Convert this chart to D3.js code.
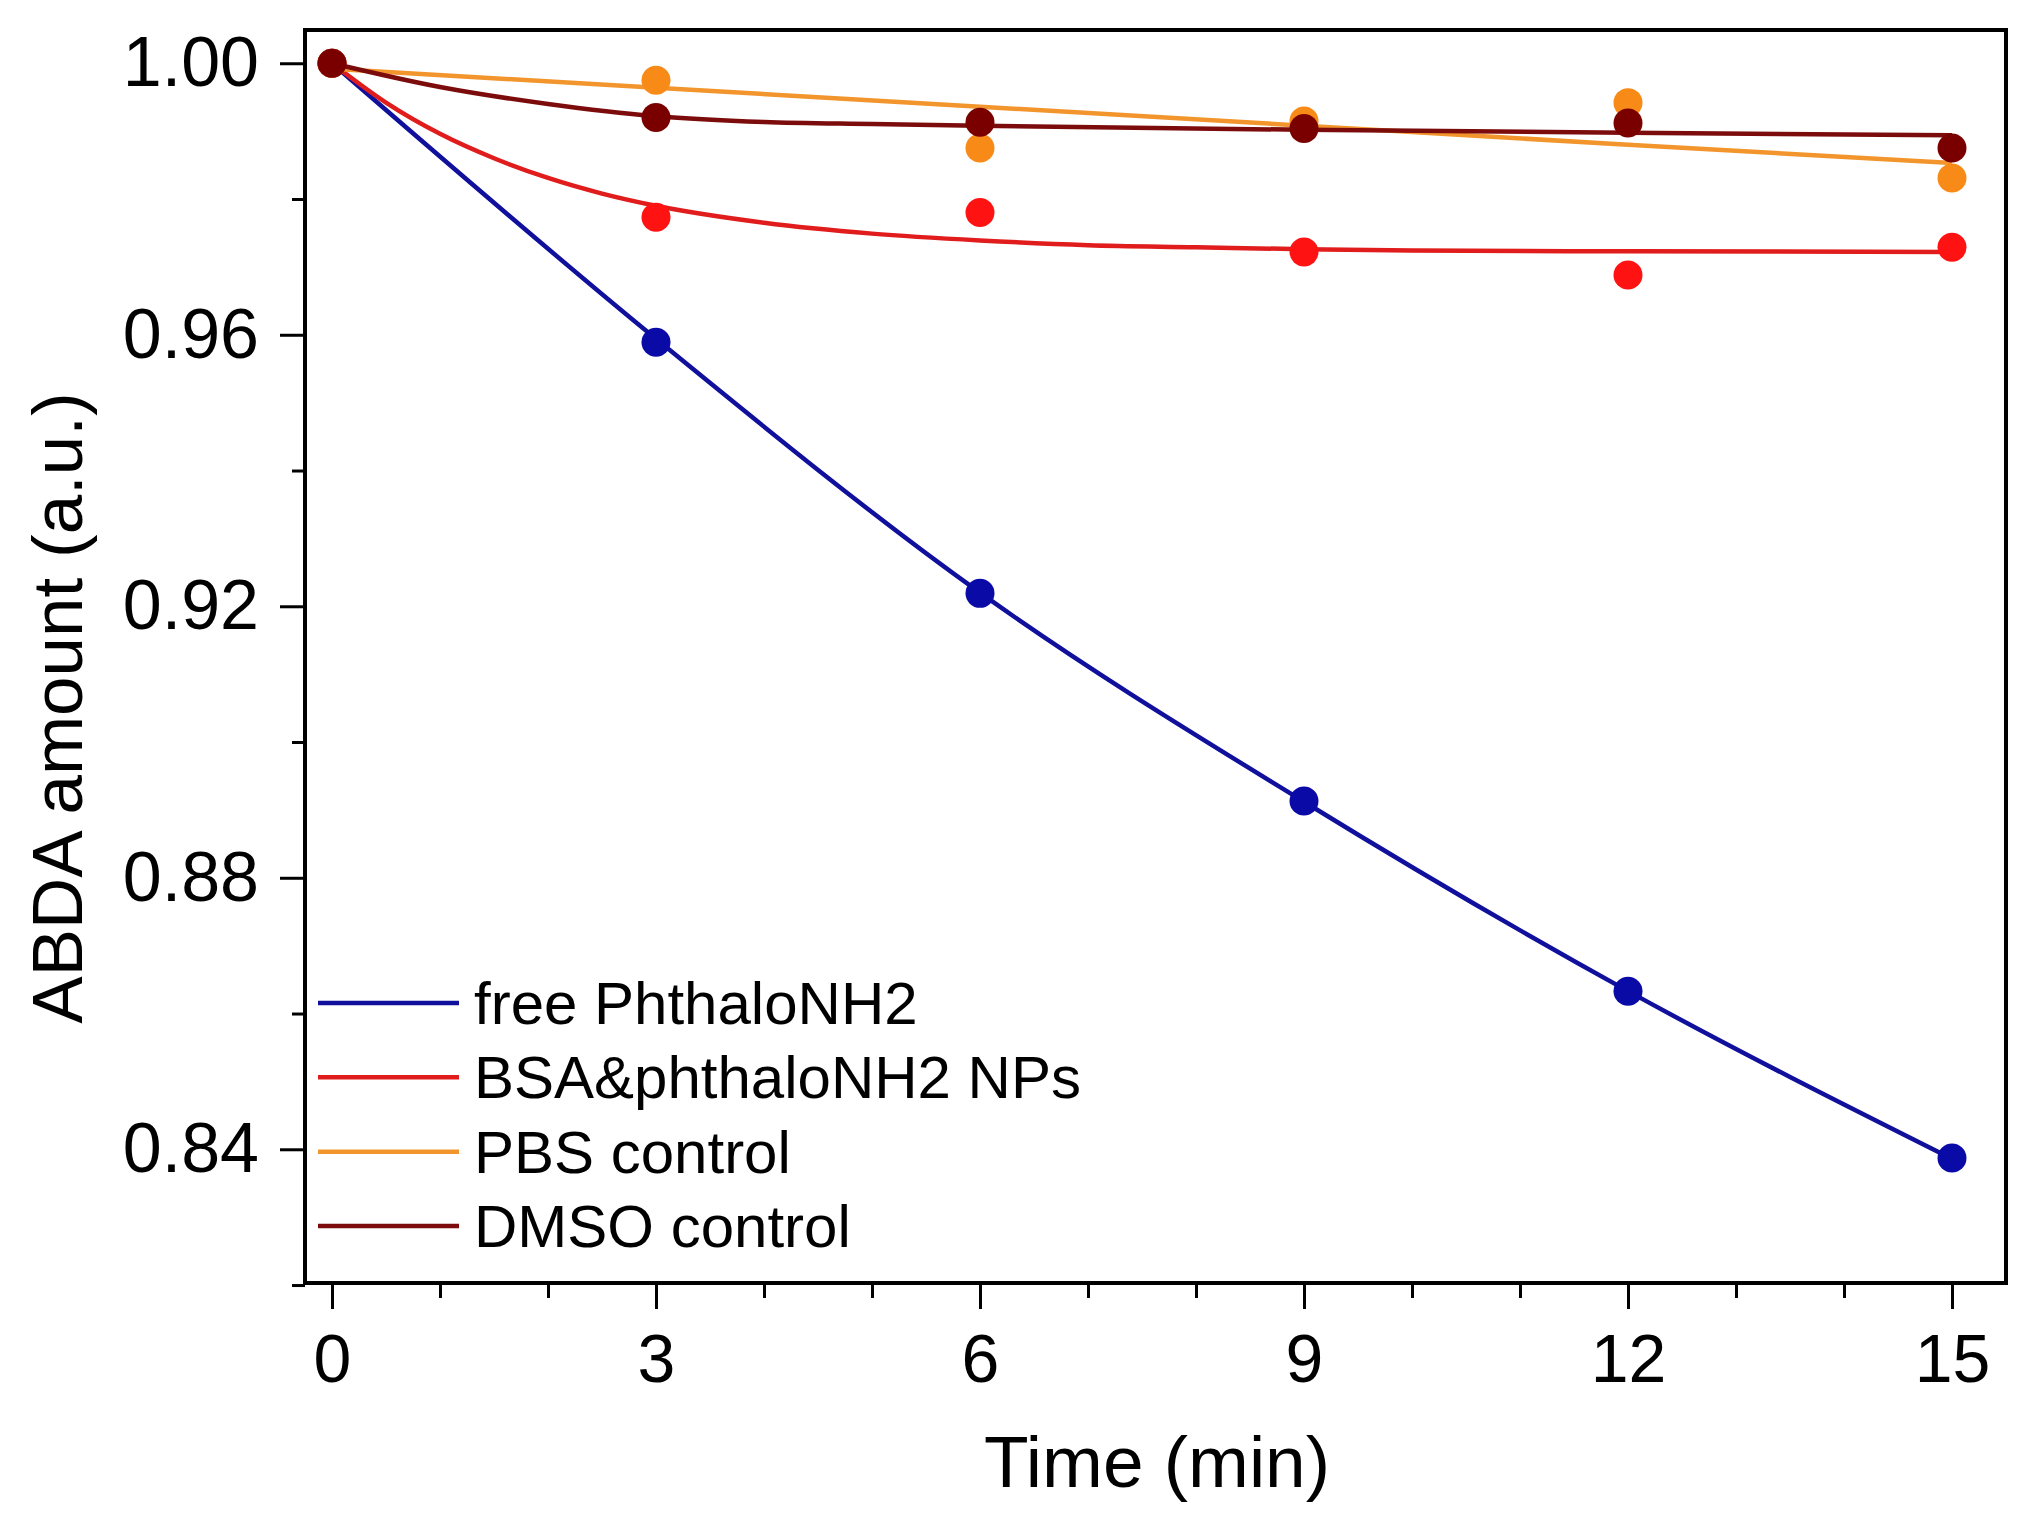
<html>
<script src="https://d3js.org/d3.v7.min.js"></script>
<style>
body{
    margin:0;
    background:#fff;
}
text{
    font-family:"Liberation Sans", Arial, sans-serif;
    fill:#000;
}
</style>
<body>
<div class="chart"></div>
</body>
<script>
const width = 2036;
const height = 1532;

// measured time points (min)
const times = [0, 3, 6, 9, 12, 15];

const freePhthalo = [1.000, 0.9589, 0.9219, 0.8913, 0.8633, 0.8387];
const bsaNPs      = [1.000, 0.9773, 0.9780, 0.9722, 0.9688, 0.9729];
const pbsControl  = [1.000, 0.9975, 0.9875, 0.9915, 0.9942, 0.9831];
const dmsoControl = [1.000, 0.9920, 0.9913, 0.9904, 0.9912, 0.9875];

// fitted curves, sampled from the figure
const freeFitT = [0, 3, 6, 9, 12, 15];
const freeFit  = [1.000, 0.9594, 0.9220, 0.8912, 0.8633, 0.8386];
const bsaFitT  = [0, 0.5, 1, 1.5, 2, 2.5, 3, 4, 5, 6, 7, 8, 9, 10, 12, 15];
const bsaFit   = [1.000, 0.9942, 0.9896, 0.9860, 0.9831, 0.9808, 0.9790, 0.9765, 0.9749, 0.9739, 0.9732, 0.9729, 0.9726, 0.9724, 0.9723, 0.9722];
const pbsFitT  = [0, 3, 6, 9, 12, 15];
const pbsFit   = [0.9992, 0.9964, 0.9936, 0.9908, 0.9880, 0.9853];
const dmsoFitT = [0, 1, 2, 3, 4, 5, 6, 9, 12, 15];
const dmsoFit  = [1.000, 0.9965, 0.9940, 0.9922, 0.99135, 0.99105, 0.9908, 0.9902, 0.98975, 0.9894];

const seriesNames = ['free PhthaloNH2', 'BSA&phthaloNH2 NPs', 'PBS control', 'DMSO control'];
const lineColors  = ['#10109c', '#e01c1c', '#f2952c', '#7c0c0c'];
const dotColors   = ['#0a0aa6', '#ff1212', '#f88b18', '#7a0000'];

const xTicks = [0, 3, 6, 9, 12, 15];
const xMinor = d3.range(0, 16, 1);
const yTicks = [0.84, 0.88, 0.92, 0.96, 1.00];
const yMinor = [0.82, 0.86, 0.90, 0.94, 0.98];

const plot = {left: 305, right: 2006, top: 30, bottom: 1283};

const xScale = d3.scaleLinear()
    .domain([-0.25, 15.5])
    .range([plot.left, plot.right]);

const yScale = d3.scaleLinear()
    .domain([0.8203, 1.0049])
    .range([plot.bottom, plot.top]);

const series = [
    {points: freePhthalo, fitT: freeFitT, fit: freeFit},
    {points: bsaNPs, fitT: bsaFitT, fit: bsaFit},
    {points: pbsControl, fitT: pbsFitT, fit: pbsFit},
    {points: dmsoControl, fitT: dmsoFitT, fit: dmsoFit}
].map((s, i)=>({
    name: seriesNames[i],
    line: lineColors[i],
    dot: dotColors[i],
    points: times.map((t, j)=>({t: t, v: s.points[j]})),
    fit: s.fitT.map((t, j)=>({t: t, v: s.fit[j]}))
}));

const line = d3.line()
    .curve(d3.curveMonotoneX)
    .x(d => xScale(d.t))
    .y(d => yScale(d.v));

const svg = d3.select('.chart')
    .append('svg')
    .attr('width', width)
    .attr('height', height);

// minor ticks first, majors on top
svg.append('g')
    .attr('transform', `translate(0,${plot.bottom})`)
    .call(d3.axisBottom(xScale).tickValues(xMinor).tickSize(15).tickFormat(''))
    .call(g=>g.select('.domain').remove())
    .call(g=>g.selectAll('line').attr('stroke-width', 3));

svg.append('g')
    .attr('transform', `translate(0,${plot.bottom})`)
    .call(d3.axisBottom(xScale).tickValues(xTicks).tickSize(26).tickPadding(25))
    .call(g=>g.select('.domain').remove())
    .call(g=>g.selectAll('line').attr('stroke-width', 3))
    .call(g=>g.selectAll('text').attr('font-size', 68).attr('font-family', null));

svg.append('g')
    .attr('transform', `translate(${plot.left},0)`)
    .call(d3.axisLeft(yScale).tickValues(yMinor).tickSize(13).tickFormat(''))
    .call(g=>g.select('.domain').remove())
    .call(g=>g.selectAll('line').attr('stroke-width', 3));

svg.append('g')
    .attr('transform', `translate(${plot.left},0)`)
    .call(d3.axisLeft(yScale).tickValues(yTicks).tickSize(25).tickPadding(21).tickFormat(d3.format('.2f')))
    .call(g=>g.select('.domain').remove())
    .call(g=>g.selectAll('line').attr('stroke-width', 3))
    .call(g=>g.selectAll('text').attr('font-size', 70).attr('font-family', null));

svg.append('rect')
    .attr('x', plot.left)
    .attr('y', plot.top)
    .attr('width', plot.right - plot.left)
    .attr('height', plot.bottom - plot.top)
    .attr('fill', 'none')
    .attr('stroke', '#000')
    .attr('stroke-width', 4);

// axis titles
svg.append('text')
    .attr('x', 1157)
    .attr('y', 1487)
    .attr('text-anchor', 'middle')
    .attr('font-size', 73)
    .text('Time (min)');

svg.append('text')
    .attr('transform', 'translate(82,708) rotate(-90)')
    .attr('text-anchor', 'middle')
    .attr('font-size', 71)
    .text('ABDA amount (a.u.)');

// series: fit line then points
svg.selectAll('g.series')
    .data(series)
    .enter()
    .append('g')
    .attr('class', 'series')
    .each(function(s){
        const g = d3.select(this);
        g.append('path')
            .attr('d', line(s.fit))
            .attr('fill', 'none')
            .attr('stroke', s.line)
            .attr('stroke-width', 4.5);
        g.selectAll('circle')
            .data(s.points)
            .enter()
            .append('circle')
            .attr('cx', d => xScale(d.t))
            .attr('cy', d => yScale(d.v))
            .attr('r', 14.5)
            .attr('fill', s.dot);
    });

// legend
const legend = svg.append('g');
const legendY = d3.scalePoint()
    .domain(seriesNames)
    .range([1003, 1226]);

legend.selectAll('g')
    .data(series)
    .enter()
    .append('g')
    .attr('transform', d => `translate(0,${legendY(d.name)})`)
    .call(g=>{
        g.append('line')
            .attr('x1', 318)
            .attr('x2', 459)
            .attr('stroke', d => d.line)
            .attr('stroke-width', 4.5);
        g.append('text')
            .attr('x', 474)
            .attr('dy', '0.35em')
            .attr('font-size', 60)
            .text(d => d.name);
    });
</script>
</html>
